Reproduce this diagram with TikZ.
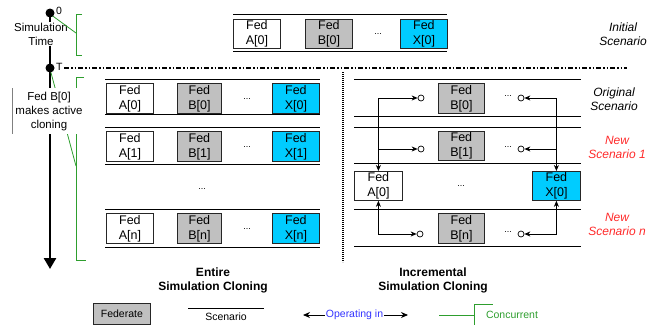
\documentclass[tikz,border=0pt]{standalone}
\usepackage{fontspec}
\setmainfont{Liberation Sans}
\usetikzlibrary{arrows.meta}
\definecolor{fedgray}{HTML}{C0C0C0}
\definecolor{fedcyan}{HTML}{00CCFF}
\definecolor{grn}{HTML}{2E9E2E}
\definecolor{opblue}{HTML}{3333FF}
\definecolor{scred}{HTML}{FF2A2A}
\newcommand\fedsz{\fontsize{12.5}{15}\selectfont}
\newcommand\lblsz{\fontsize{11.5}{14}\selectfont}
\newcommand\legsz{\fontsize{10.5}{12}\selectfont}
\tikzset{
  fedbox/.style={draw=black!85, line width=0.8pt, inner sep=0pt, minimum height=30pt,
                 minimum width=47pt, anchor=north west, align=center, font=\fedsz},
  fedA/.style={fedbox, fill=white},
  fedB/.style={fedbox, fill=fedgray, minimum width=44pt},
  fedX/.style={fedbox, fill=fedcyan},
  scenline/.style={line width=0.9pt, black},
  dotsnode/.style={font=\fontsize{9}{9}\selectfont, inner sep=0pt},
  opline/.style={line width=0.7pt, black, arrows={-Stealth[length=6pt,width=5pt]}},
  opboth/.style={line width=0.7pt, black, arrows={Stealth[length=6pt,width=5pt]-Stealth[length=6pt,width=5pt]}},
  circ/.style={circle, draw, line width=0.7pt, inner sep=0pt, minimum size=6pt},
  grnline/.style={grn, line width=0.8pt},
  sidelbl/.style={align=center, font=\fontsize{12}{14}\selectfont\itshape},
}
\begin{document}
\begin{tikzpicture}[x=1pt,y=-1pt]
\useasboundingbox (0,0) rectangle (660,324);

% ---------- time axis ----------
\draw[line width=2.6pt, -{Triangle[length=11pt,width=12pt]}] (50,13) -- (50,269) coordinate (tend);
\draw[line width=1.3pt, dash pattern=on 5pt off 2pt on 1.5pt off 2pt on 1.5pt off 2pt]
  (64,68) -- (627,68);
\draw[line width=2.2pt, dash pattern=on 1.3pt off 0.7pt] (343,72) -- (343,262);

% second green bracket and diagonal (hidden behind label box)
\draw[grnline] (84,77) -- (76,77) -- (76,260) -- (86,260);
\draw[grnline] (50,69) -- (76,166);
\fill[white] (12,88) rectangle (88,134);
\draw[gray, line width=0.7pt] (12,88) -- (12,134);
\node[align=center, font=\lblsz, inner sep=0pt] (clonelbl) at (49,112) {Fed B[0]\\makes active\\cloning};

% first label and green bracket
\node[align=center, font=\lblsz, fill=white, inner sep=1pt] (simtime) at (41,34) {Simulation\\Time};
\draw[grnline] (82,14) -- (76,14) -- (76,55) -- (82,55);
\draw[grnline] (50,14) -- (76,33);

\fill (50,13) circle (4.5pt);
\fill (50,68) circle (4.5pt);
\node[font=\legsz, anchor=west, inner sep=0pt] (zero) at (56,11) {0};
\node[font=\legsz, anchor=west, inner sep=0pt] (tlbl) at (56,67) {T};

% ---------- initial scenario ----------
\draw[scenline] (233,14) -- (447,14);
\draw[scenline] (233,51) -- (447,51);
\node[fedA, minimum height=29pt] (tA) at (233,19) {Fed\\A[0]};
\node[fedB, minimum height=29pt, minimum width=47pt] (tB) at (305,19) {Fed\\B[0]};
\node[fedX, minimum height=29pt] (tX) at (400,19) {Fed\\X[0]};
\node[dotsnode] (tdots) at (378,34) {...};
\node[sidelbl] (initlbl) at (623,34) {Initial\\Scenario};

% ---------- entire simulation cloning ----------
\draw[scenline] (105,79) -- (320,79);
\draw[scenline] (105,114) -- (320,114);
\node[fedA] (eA0) at (106,83) {Fed\\A[0]};
\node[fedB] (eB0) at (177,83) {Fed\\B[0]};
\node[fedX] (eX0) at (272,83) {Fed\\X[0]};
\node[dotsnode] (ed0) at (247,99) {...};

\draw[scenline] (105,127) -- (320,127);
\draw[scenline] (105,164) -- (320,164);
\node[fedA] (eA1) at (106,131) {Fed\\A[1]};
\node[fedB] (eB1) at (177,131) {Fed\\B[1]};
\node[fedX] (eX1) at (272,131) {Fed\\X[1]};
\node[dotsnode] (ed1) at (247,147) {...};

\node[dotsnode] (emid) at (202,189) {...};

\draw[scenline] (105,209) -- (320,209);
\draw[scenline] (105,247) -- (320,247);
\node[fedA] (eAn) at (106,213) {Fed\\A[n]};
\node[fedB] (eBn) at (177,213) {Fed\\B[n]};
\node[fedX] (eXn) at (272,213) {Fed\\X[n]};
\node[dotsnode] (edn) at (247,229) {...};

% ---------- incremental simulation cloning ----------
\draw[scenline] (354,79) -- (581,79);
\draw[scenline] (354,116) -- (581,116);
\draw[scenline] (354,127) -- (581,127);
\draw[scenline] (354,163) -- (581,163);
\draw[scenline] (354,209) -- (581,209);
\draw[scenline] (354,246) -- (581,246);

\node[fedB, minimum width=46pt] (iB0) at (438,83) {Fed\\B[0]};
\node[fedB, minimum width=46pt, minimum height=29pt] (iB1) at (438,131) {Fed\\B[1]};
\node[fedA, minimum width=48pt, minimum height=29pt] (iA0) at (354,171) {Fed\\A[0]};
\node[fedX, minimum width=48pt, minimum height=29pt] (iX0) at (532,171) {Fed\\X[0]};
\node[fedB, minimum width=46pt] (iBn) at (438,213) {Fed\\B[n]};
\node[dotsnode] (imid) at (461,186) {...};

\node[circ] (cL0) at (421,98) {};
\node[circ] (cL1) at (421,149) {};
\node[circ] (cLn) at (420,234) {};
\node[circ] (cR0) at (521,98) {};
\node[circ] (cR1) at (521,149) {};
\node[circ] (cRn) at (521,234) {};
\node[dotsnode] (rd0) at (508,96) {...};
\node[dotsnode] (rd1) at (508,147) {...};
\node[dotsnode] (rdn) at (508,232) {...};

\draw[opboth] (cL0.west) -- (cL0.west -| iA0.north) -- (iA0.north);
\draw[opline] (cL1.west -| iA0.north) -- (cL1.west);
\draw[opboth] (iA0.south) -- (iA0.south |- cLn.west) -- (cLn.west);
\draw[opboth] (cR0.east) -- (cR0.east -| iX0.north) -- (iX0.north);
\draw[opline] (cR1.east -| iX0.north) -- (cR1.east);
\draw[opboth] (iX0.south) -- (iX0.south |- cRn.east) -- (cRn.east);

\node[sidelbl] (origlbl) at (614,99) {Original\\Scenario};
\node[sidelbl, text=scred] (new1lbl) at (617,147) {New\\Scenario 1};
\node[sidelbl, text=scred] (newnlbl) at (617,224) {New\\Scenario n};

% ---------- titles ----------
\node[align=center, font=\fontsize{12}{14}\selectfont\bfseries] (etitle) at (213,280) {Entire\\Simulation Cloning};
\node[align=center, font=\fontsize{12}{14}\selectfont\bfseries] (ititle) at (433,280) {Incremental\\Simulation Cloning};

% ---------- legend ----------
\node[draw=black!85, line width=0.8pt, fill=fedgray, anchor=north west, minimum width=57pt,
      minimum height=21pt, inner sep=0pt, font=\legsz] (legfed) at (93,303) {Federate};
\draw[scenline] (188,308) -- (264,308);
\node[font=\legsz] (legscen) at (226,317) {Scenario};
\node[font=\legsz, text=opblue, inner sep=1pt] (legop) at (354.5,315) {Operating in};
\coordinate (opl) at (303,315);
\coordinate (opr) at (408,315);
\draw[line width=0.9pt, -{Stealth[length=7pt,width=6pt]}] (legop.west) -- (opl);
\draw[line width=0.9pt, -{Stealth[length=7pt,width=6pt]}] (legop.east) -- (opr);
\draw[grnline] (439,315) -- (474,315);
\draw[grnline] (474,325) -- (474,304) -- (493,304);
\node[font=\legsz, text=grn] (legconc) at (512,315) {Concurrent};
\end{tikzpicture}
\end{document}
